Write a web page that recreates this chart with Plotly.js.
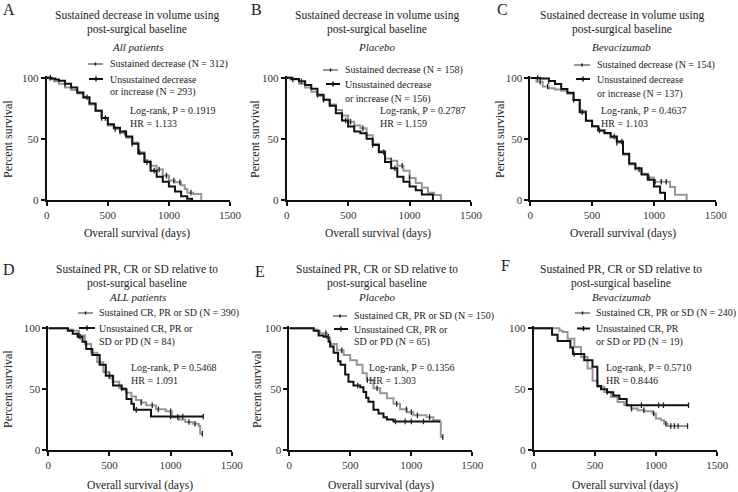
<!DOCTYPE html>
<html>
<head>
<meta charset="utf-8">
<script src="https://cdn.plot.ly/plotly-3.0.1.min.js"></script>
<style>html,body{margin:0;padding:0;background:#fff}#chart{width:738px;height:492px}</style>
</head>
<body>
<div id="chart"></div>
<script>
// ---------------- DATA ----------------
// Panel A: all patients, sustained decrease in volume
const A_sus_t = [0,25,60,100,150,200,250,300,350,400,450,500,550,600,650,700,750,800,850,900,950,1000,1050,1100,1130,1150,1200,1265];
const A_sus_s = [100,98.7,97,95,92,90,87,83.5,78,73,67,61,58,55,51,47,39,32,28,25,20,16,14.5,12,9,6,5,0];
const A_uns_t = [0,40,70,100,150,200,250,300,350,400,450,500,550,600,650,700,750,800,850,900,950,1000,1050,1100,1150,1190];
const A_uns_s = [100,99.3,98.6,97.6,95,92,88,84,79,73,67,62,59,56,52,46,38,31,24,19,15,11,7,3,1,0];
const A_sus_c = [480,560,640,760,850,920,980,1040,1090,1180];
const A_uns_c = [30,150,330,450,600,700,820,880];
// Panel B: placebo
const B_sus_t = [0,30,100,150,200,250,300,350,400,450,500,550,600,650,700,750,800,850,900,950,1000,1050,1100,1150,1200,1255];
const B_sus_s = [100,98.5,95,92,88.5,85,82,78,73.5,69,64,61,58.6,53,46,40,34,32,28,24,18,14,10,6,4,0];
const B_uns_t = [0,40,100,150,200,250,300,350,400,450,500,550,600,650,700,750,800,850,900,950,1000,1050,1100,1190];
const B_uns_s = [100,99,97,94,91,86,82,77,71,65,60,56,54.5,50,45,39,31,26,19,15,11,8,4.5,0];
const B_sus_c = [50,300,520,620,850,940,1000];
const B_uns_c = [120,250,480,700,790,880];
// Panel C: bevacizumab
const C_sus_t = [0,50,100,150,200,250,300,350,400,450,500,550,600,650,700,750,800,850,900,950,1000,1130,1150,1170,1265];
const C_sus_s = [100,97,93,91.5,90.5,89.5,87,82,73,65,60.5,57,54.5,51,47,37,29,25,21.5,18.5,15,10.6,10.6,4.4,0];
const C_uns_t = [0,80,150,200,250,300,350,400,450,500,550,600,650,700,750,800,850,900,950,1000,1050,1090];
const C_uns_s = [100,99.5,97.5,95,91,88,82,72,65,60.5,57,55,52,48,38,30,26,21,16.5,11,6,0];
const C_sus_c = [80,140,350,700,880,960,1010,1060,1100];
const C_uns_c = [60,150,420,560,680,740];
// Panel D: sustained PR/CR/SD, all patients
const D_sus_t = [0,160,200,250,300,350,400,450,500,526,580,635,680,717,760,800,880,960,1010,1070,1120,1180,1230,1242,1260];
const D_sus_s = [100,99,98,94,87,80,72,64,59,56,51,47,44,41,39,36.7,33.4,31.8,27,25,23,21.6,19.7,13.4,13.4];
const D_uns_t = [0,160,200,240,280,310,360,420,470,530,600,640,680,700,840,1268];
const D_uns_s = [100,98,95.6,93,89,83,78,70,61,53,50,42,38,33,27.5,27.5];
const D_sus_c = [250,420,600,760,850,900,1000,1060,1150,1200,1260];
const D_uns_c = [260,500,720,1000,1100,1268];
// Panel E: placebo
const E_sus_t = [0,200,226,250,308,335,390,445,499,553,600,635,690,745,800,854,908,963,1017,1126,1181,1235,1242,1258];
const E_sus_s = [100,99,98,96,92,87,82,78,73.7,70,63,57.5,50.7,46.6,42.5,38,33.4,31,28.5,27,24.4,23,10.7,10.7];
const E_uns_t = [0,200,240,281,322,335,363,400,420,458,485,526,581,608,630,649,690,731,772,800,854,1235];
const E_uns_s = [100,98,94,93,89,85,80,73,70,62,56,53,51.5,47.7,43,39.7,33,30,27,25,23.5,23.5];
const E_sus_c = [300,430,640,720,880,960,1000,1050,1150,1258];
const E_uns_c = [320,560,870,950,1000,1100];
// Panel F: bevacizumab
const F_sus_t = [0,210,237,277,332,386,440,481,522,577,631,685,740,794,849,903,971,998,1039,1066,1093,1257];
const F_sus_s = [100,98,97,91.5,84.7,76.4,67,57,52,47.7,43.6,39.5,36.7,34,32.6,31.8,30,25.8,24.4,21.6,19.7,19.7];
const F_uns_t = [0,150,195,300,320,413,480,520,550,600,650,700,760,1265];
const F_uns_s = [100,94.7,89.5,84.2,78.9,73.7,68.4,52.6,50,47.4,44.7,42,36.8,36.8];
const F_sus_c = [600,800,900,980,1080,1120,1150,1180,1257];
const F_uns_c = [330,880,1020,1060,1265];

const xTicks = [0,500,1000,1500];
const yTicks = [0,50,100];

// ---------------- LAYOUT ----------------
const W = 738, H = 492;
const GRAY = '#969696', BLACK = '#111111';
const FONT = 'Liberation Serif';
// touch the font once so the browser has it ready before Plotly measures text
(function(){ const c = document.createElement('canvas').getContext('2d');
  ['', 'italic '].forEach(s => { c.font = s + '12px "Liberation Serif", monospace'; c.measureText('Sustained 0123'); }); })();
const px = x => x / W;
const py = y => 1 - y / H;

const panels = [
  {xl:46.7, xr:230,   yb:200, yt:77.7, sus:[A_sus_t,A_sus_s,A_sus_c], uns:[A_uns_t,A_uns_s,A_uns_c]},
  {xl:286.7,xr:471,   yb:200, yt:77.7, sus:[B_sus_t,B_sus_s,B_sus_c], uns:[B_uns_t,B_uns_s,B_uns_c]},
  {xl:530.3,xr:715.7, yb:200, yt:78,   sus:[C_sus_t,C_sus_s,C_sus_c], uns:[C_uns_t,C_uns_s,C_uns_c]},
  {xl:48.3, xr:231.7, yb:450, yt:328.3,sus:[D_sus_t,D_sus_s,D_sus_c], uns:[D_uns_t,D_uns_s,D_uns_c]},
  {xl:289.3,xr:472.3, yb:450, yt:328.3,sus:[E_sus_t,E_sus_s,E_sus_c], uns:[E_uns_t,E_uns_s,E_uns_c]},
  {xl:533.7,xr:717.3, yb:450, yt:328.3,sus:[F_sus_t,F_sus_s,F_sus_c], uns:[F_uns_t,F_uns_s,F_uns_c]}
];

function stepY(t, s, x) {
  let y = s[0];
  for (let i = 0; i < t.length; i++) if (t[i] <= x) y = s[i];
  return y;
}

const YMAX = 101.5;
const traces = [];
const layout = {
  width: W, height: H,
  margin: {l:0, r:0, t:0, b:0},
  paper_bgcolor: '#fff', plot_bgcolor: '#fff',
  showlegend: false, hovermode: false,
  annotations: [], shapes: []
};

panels.forEach((p, i) => {
  const n = i + 1;
  const xa = n === 1 ? 'x' : 'x' + n, ya = n === 1 ? 'y' : 'y' + n;
  const topPix = p.yb - (p.yb - p.yt) * YMAX / 100;
  layout['xaxis' + (n === 1 ? '' : n)] = {
    domain: [px(p.xl), px(p.xr)], anchor: ya, range: [0, 1500],
    tickvals: xTicks, ticktext: xTicks.map(String),
    showline: true, linecolor: '#111', linewidth: 1.8, ticks: 'outside', ticklen: 4, tickwidth: 1.5, tickcolor: '#111',
    showgrid: false, zeroline: false, tickfont: {family: FONT, size: 11, color: '#333'}
  };
  layout['yaxis' + (n === 1 ? '' : n)] = {
    domain: [py(p.yb), py(topPix)], anchor: xa, range: [0, YMAX],
    tickvals: yTicks, ticktext: yTicks.map(String),
    showline: true, linecolor: '#111', linewidth: 1.8, ticks: 'outside', ticklen: 4, tickwidth: 1.5, tickcolor: '#111',
    showgrid: false, zeroline: false, tickfont: {family: FONT, size: 11, color: '#333'}
  };
  [[p.sus, GRAY], [p.uns, BLACK]].forEach(([d, col]) => {
    traces.push({x: d[0], y: d[1], xaxis: xa, yaxis: ya, type: 'scatter', mode: 'lines',
      line: {shape: 'hv', color: col, width: 2}});
    traces.push({x: d[2], y: d[2].map(c => stepY(d[0], d[1], c)), xaxis: xa, yaxis: ya, type: 'scatter', mode: 'markers',
      marker: {symbol: 'line-ns-open', size: 4, color: '#222', line: {color: '#222', width: 1.3}}, cliponaxis: false});
  });
});

function ann(text, x, y, o) {
  o = o || {};
  layout.annotations.push({
    text: text, x: px(x), y: py(y), xref: 'paper', yref: 'paper', showarrow: false,
    xanchor: o.xa || 'left', yanchor: 'middle', textangle: o.angle || 0,
    font: {family: FONT, size: o.size || 10, color: o.color || '#222'}
  });
}
function legLine(x0, x1, y, col, tick) {
  layout.shapes.push({type: 'line', xref: 'paper', yref: 'paper', x0: px(x0), x1: px(x1), y0: py(y), y1: py(y),
    line: {color: col, width: 2}});
  const xm = (x0 + x1) / 2;
  layout.shapes.push({type: 'line', xref: 'paper', yref: 'paper', x0: px(xm), x1: px(xm), y0: py(y - (tick ? 2.5 : 1.5)), y1: py(y + (tick ? 2.5 : 1.5)),
    line: {color: '#111', width: 1.5}});
}

// Panel letters
ann('A', 1, 10, {size: 16}); ann('B', 249, 10, {size: 16}); ann('C', 495, 10, {size: 16});
ann('D', 1, 269, {size: 16}); ann('E', 253, 271, {size: 16}); ann('F', 499, 265, {size: 16});

// Titles
const T1 = 'Sustained decrease in volume using', T2 = 'post-surgical baseline';
const T3 = 'Sustained PR, CR or SD relative to';
[[137,'<i>All patients</i>'],[377,'<i>Placebo</i>'],[621.5,'<i>Bevacizumab</i>']].forEach(([cx, sub]) => {
  ann(T1, cx, 16, {xa:'center', size: 11.5}); ann(T2, cx, 29, {xa:'center', size: 11.5}); ann(sub, cx, 47, {xa:'center', size: 11});
});
[[137,'<i>ALL patients</i>'],[377,'<i>Placebo</i>'],[621,'<i>Bevacizumab</i>']].forEach(([cx, sub]) => {
  ann(T3, cx, 269, {xa:'center', size: 11.5}); ann(T2, cx, 283, {xa:'center', size: 11.5}); ann(sub, cx, 297, {xa:'center', size: 11});
});

// Axis titles
[[137,233],[378,233],[623,233],[140,485],[381,485],[625,485]].forEach(([cx, cy]) =>
  ann('Overall survival (days)', cx, cy, {xa:'center', size: 11.5}));
[[8,139],[255,139],[500,139],[8,389],[257,389]].forEach(([cx, cy]) =>
  ann('Percent survival', cx, cy, {xa:'center', angle: -90, size: 12}));

// Legends
legLine(88, 103, 64, GRAY, false);  ann('Sustained decrease (N = 312)', 108, 64);
legLine(89, 103, 79, BLACK, true);  ann('Unsustained decrease', 108, 79); ann('or increase (N = 293)', 108, 92);
ann('Log-rank, P = 0.1919', 128, 110); ann('HR = 1.133', 128, 123);

legLine(323, 338, 70, GRAY, false); ann('Sustained decrease (N = 158)', 343, 70);
legLine(326, 340, 84, BLACK, true); ann('Unsustained decrease', 343, 84); ann('or increase (N = 156)', 343, 98.5);
ann('Log-rank, P = 0.2787', 378, 110); ann('HR = 1.159', 378, 123);

legLine(574, 590, 65, GRAY, false); ann('Sustained decrease (N = 154)', 595, 65);
legLine(576, 590, 79, BLACK, true); ann('Unsustained decrease', 595, 79); ann('or increase (N = 137)', 595, 93.5);
ann('Log-rank, P = 0.4637', 599, 110); ann('HR = 1.103', 599, 123);

legLine(78, 93, 313, GRAY, false);  ann('Sustained CR, PR or SD (N = 390)', 97, 313);
legLine(79, 95, 328, BLACK, true);  ann('Unsustained CR, PR or', 97, 328); ann('SD or PD (N = 84)', 97, 342);
ann('Log-rank, P = 0.5468', 129, 367); ann('HR = 1.091', 129, 380);

legLine(333, 347, 316, GRAY, false); ann('Sustained CR, PR or SD (N = 150)', 352, 316);
legLine(334, 348, 329, BLACK, true); ann('Unsustained CR, PR or', 352, 329); ann('SD or PD (N = 65)', 352, 342);
ann('Log-rank, P = 0.1356', 367, 367); ann('HR = 1.303', 367, 380);

legLine(575, 590, 313, GRAY, false); ann('Sustained CR, PR or SD (N = 240)', 594, 313);
legLine(577, 590, 328.5, BLACK, true); ann('Unsustained CR, PR', 594, 328.5); ann('or SD or PD (N = 19)', 594, 342);
ann('Log-rank, P = 0.5710', 604, 367); ann('HR = 0.8446', 604, 380);

Plotly.newPlot('chart', traces, layout, {displayModeBar: false});
</script>
</body>
</html>
